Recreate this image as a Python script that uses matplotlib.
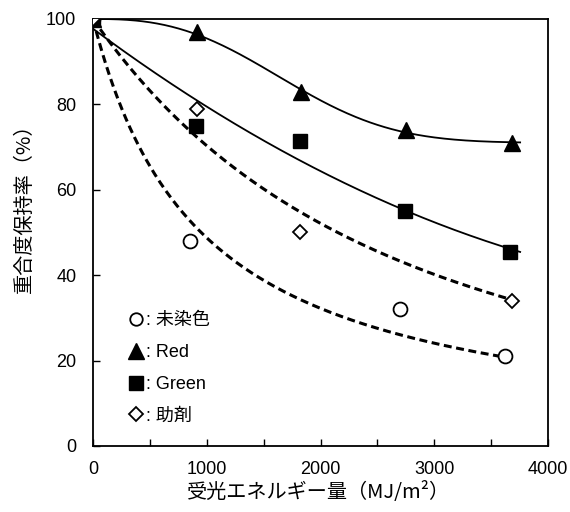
import numpy as np
import matplotlib
matplotlib.use("Agg")
import matplotlib.pyplot as plt
from matplotlib.lines import Line2D

plt.rcParams['font.family'] = ['Liberation Sans', 'Noto Sans CJK JP', 'DejaVu Sans']
CJK = ['Noto Sans CJK JP', 'DejaVu Sans']
MIX = ['Liberation Sans', 'Noto Sans CJK JP', 'DejaVu Sans']

# Data
x_unstained = [0, 855, 2700, 3620]
y_unstained = [100, 48, 32, 21]
x_red = [0, 915, 1830, 2750, 3680]
y_red = [100, 97, 83, 74, 71]
x_green = [0, 905, 1820, 2745, 3665]
y_green = [100, 75, 71.5, 55, 45.5]
x_aux = [0, 915, 1820, 3680]
y_aux = [100, 79, 50, 34]

labels = [': 未染色', ': Red', ': Green', ': 助剤']


def fit_power(x, y, p):
    # least-squares fit of y = 100/(1+b x)^p  (trend line)
    x = np.asarray(x, float); y = np.asarray(y, float)
    bs = np.logspace(-5, -2, 3000)
    pred = 100 / (1 + bs[:, None] * x[None, :]) ** p
    b = bs[np.argmin(((pred - y) ** 2).sum(axis=1))]
    return lambda t: 100 / (1 + b * t) ** p


def fit_weibull(x, y):
    # least-squares fit of y = c + (100-c) exp(-(x/s)^m)  (trend line)
    x = np.asarray(x, float); y = np.asarray(y, float)
    c = np.linspace(50, 85, 71)[:, None, None, None]
    s = np.linspace(500, 5000, 181)[None, :, None, None]
    m = np.linspace(0.8, 4, 65)[None, None, :, None]
    pred = c + (100 - c) * np.exp(-(x / s) ** m)
    err = ((pred - y) ** 2).sum(axis=-1)
    i, j, k = np.unravel_index(np.argmin(err), err.shape)
    cc, ss, mm = c[i, 0, 0, 0], s[0, j, 0, 0], m[0, 0, k, 0]
    return lambda t: cc + (100 - cc) * np.exp(-(t / ss) ** mm)


fig = plt.figure(figsize=(5.7, 5.12), dpi=100)
ax = fig.add_axes([93 / 570, 66 / 512, 455 / 570, 427 / 512])

# fitted trend curves
f_red = fit_weibull(x_red, y_red)
xr = np.linspace(0, max(x_red) + 75, 300)
ax.plot(xr, f_red(xr), color='black', lw=1.3, zorder=2)
xg = np.linspace(0, max(x_green) + 90, 300)
ax.plot(xg, np.polyval(np.polyfit(x_green, y_green, 2), xg), color='black', lw=1.3, zorder=2)
for xs, ys, p in [(x_unstained, y_unstained, 1), (x_aux, y_aux, 2)]:
    f = fit_power(xs, ys, p)
    xx = np.linspace(0, max(xs), 300)
    ax.plot(xx, f(xx), color='black', lw=2.2, dashes=(2.6, 1.5), zorder=2)

ax.plot(x_unstained, y_unstained, 'o', ms=10, mfc='white', mec='black', mew=1.3, ls='none', zorder=4)
ax.plot(x_red, y_red, '^', ms=11, mfc='black', mec='black', ls='none', zorder=4)
ax.plot(x_green, y_green, 's', ms=10, mfc='black', mec='black', ls='none', zorder=4)
ax.plot(x_aux, y_aux, 'D', ms=7.5, mfc='white', mec='black', mew=1.3, ls='none', zorder=5)

handles = [
    Line2D([], [], marker='o', ms=9, mfc='white', mec='black', mew=1.3, ls='none'),
    Line2D([], [], marker='^', ms=11, mfc='black', mec='black', ls='none'),
    Line2D([], [], marker='s', ms=10, mfc='black', mec='black', ls='none'),
    Line2D([], [], marker='D', ms=7.5, mfc='white', mec='black', mew=1.3, ls='none'),
]
leg = ax.legend(handles, labels, loc='upper left', bbox_to_anchor=(0.040, 0.351),
                frameon=False, handlelength=0.9, handletextpad=0.15, labelspacing=0.82,
                prop={'family': MIX, 'size': 13})

ax.set_xlim(0, 4000)
ax.set_ylim(0, 100)
ax.set_xticks([0, 1000, 2000, 3000, 4000])
ax.set_xticks([500, 1500, 2500, 3500], minor=True)
ax.set_yticks([0, 20, 40, 60, 80, 100])
ax.tick_params(axis='both', which='both', direction='in', length=5, width=1, labelsize=13)
ax.tick_params(axis='x', pad=11)
ax.tick_params(axis='y', pad=12)
for s in ax.spines.values():
    s.set_linewidth(1.3)

ax.set_xlabel('受光エネルギー量（MJ/m²）', fontsize=14.5, family=CJK)
ax.xaxis.set_label_coords(0.495, -0.084)
ax.set_ylabel('重合度保持率（%）', fontsize=14.5, family=CJK)
ax.yaxis.set_label_coords(-0.128, 0.568)

fig.savefig('out.png', dpi=100)
